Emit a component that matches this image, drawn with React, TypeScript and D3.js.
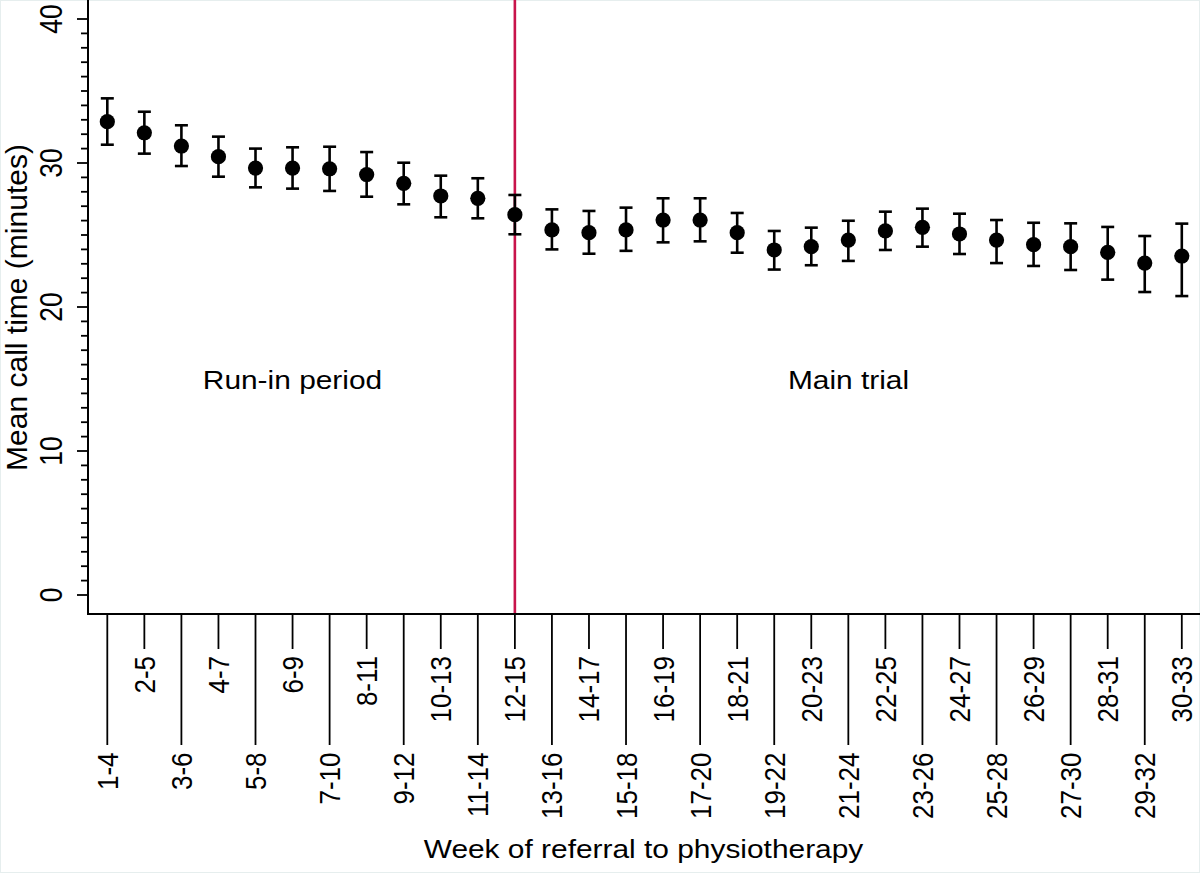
import React from "react";
import * as d3 from "d3";

const categories = ["1-4","2-5","3-6","4-7","5-8","6-9","7-10","8-11","9-12","10-13","11-14","12-15","13-16","14-17","15-18","16-19","17-20","18-21","19-22","20-23","21-24","22-25","23-26","24-27","25-28","26-29","27-30","28-31","29-32","30-33"];
const means = [32.87, 32.1, 31.18, 30.44, 29.65, 29.65, 29.6, 29.2, 28.59, 27.71, 27.55, 26.41, 25.35, 25.16, 25.35, 26.04, 26.04, 25.16, 23.96, 24.19, 24.65, 25.28, 25.53, 25.07, 24.65, 24.33, 24.19, 23.8, 23.05, 23.54];
const upper = [34.49, 33.56, 32.62, 31.83, 31.0, 31.09, 31.13, 30.76, 30.02, 29.12, 28.94, 27.78, 26.78, 26.67, 26.9, 27.55, 27.55, 26.53, 25.28, 25.51, 25.99, 26.62, 26.83, 26.48, 26.04, 25.85, 25.81, 25.56, 24.93, 25.79];
const lower = [31.27, 30.65, 29.79, 29.05, 28.31, 28.22, 28.06, 27.66, 27.13, 26.23, 26.16, 25.05, 24.0, 23.7, 23.9, 24.49, 24.56, 23.77, 22.6, 22.9, 23.2, 23.96, 24.19, 23.68, 23.05, 22.85, 22.57, 21.9, 21.04, 20.76];
const yMajorTicks = [0, 10, 20, 30, 40];
const dividerCategory = "12-15";
const periodLabels = [
  { text: "Run-in period", from: "1-4", to: "12-15" },
  { text: "Main trial", from: "12-15", to: "30-33" },
];

const W = 1200, H = 873;
const FONT = "'Liberation Sans', Arial, Helvetica, sans-serif";
const SX = 1.15;

export default function App() {
  const x = d3.scalePoint<string>().domain(categories).range([107.3, 1181.8]).padding(0);
  const y = d3.scaleLinear().domain([0, 40]).range([595, 19]);
  const minorTicks = d3.range(0, 41, 1);
  const axisX = 88, axisY = 614;
  const capHalf = 6.5;

  return (
    <svg width={W} height={H} style={{ position: "absolute", left: 0, top: 0, background: "#fff" }} fontFamily={FONT}>
      <rect x={0.5} y={0.5} width={W - 1} height={H - 1} fill="#fff" stroke="#e6eeee" strokeWidth={1} />
      {/* divider */}
      <line x1={x(dividerCategory)} x2={x(dividerCategory)} y1={0} y2={axisY} stroke="#c8144b" strokeWidth={2.6} />
      {/* y axis */}
      <line x1={axisX} x2={axisX} y1={0} y2={axisY + 1} stroke="#000" strokeWidth={2} />
      {minorTicks.map((t) => (
        <line key={"m" + t} x1={yMajorTicks.includes(t) ? 77 : 81} x2={axisX} y1={y(t)} y2={y(t)} stroke="#000" strokeWidth={1.8} />
      ))}
      {yMajorTicks.map((t) => (
        <text key={"yl" + t} transform={`translate(62,${y(t)}) rotate(-90) scale(1,${SX})`} textAnchor="middle" fontSize={26.5} fill="#000">{t}</text>
      ))}
      {/* x axis */}
      <line x1={axisX - 1} x2={W} y1={axisY} y2={axisY} stroke="#000" strokeWidth={2} />
      {categories.map((c, i) => {
        const long = i % 2 === 0;
        const xe = x(c)!;
        return (
          <g key={"xt" + c}>
            <line x1={xe} x2={xe} y1={axisY} y2={long ? 745 : 649} stroke="#000" strokeWidth={1.8} />
            <text transform={`translate(${xe + 10.5},${long ? 752.5 : 656}) rotate(-90) scale(1,${SX})`} textAnchor="end" fontSize={26} fill="#000">{c}</text>
          </g>
        );
      })}
      {/* error bars and points */}
      {categories.map((c, i) => {
        const xe = x(c)!;
        return (
          <g key={"pt" + c}>
            <line x1={xe} x2={xe} y1={y(upper[i])} y2={y(lower[i])} stroke="#000" strokeWidth={2.6} />
            <line x1={xe - capHalf} x2={xe + capHalf} y1={y(upper[i])} y2={y(upper[i])} stroke="#000" strokeWidth={2.6} />
            <line x1={xe - capHalf} x2={xe + capHalf} y1={y(lower[i])} y2={y(lower[i])} stroke="#000" strokeWidth={2.6} />
            <circle cx={xe} cy={y(means[i])} r={7.6} fill="#000" />
          </g>
        );
      })}
      {/* period labels */}
      {periodLabels.map((p) => {
        const cx = p.text === "Run-in period" ? 292.5 : 848.5;
        return (
          <text key={p.text} transform={`translate(${cx},389) scale(${SX},1)`} textAnchor="middle" fontSize={26} fill="#000">{p.text}</text>
        );
      })}
      {/* axis titles */}
      <text transform={`translate(643.5,858) scale(${SX},1)`} textAnchor="middle" fontSize={26} fill="#000">Week of referral to physiotherapy</text>
      <text transform={`translate(27,307.5) rotate(-90)`} textAnchor="middle" fontSize={30} fill="#000">Mean call time (minutes)</text>
    </svg>
  );
}
